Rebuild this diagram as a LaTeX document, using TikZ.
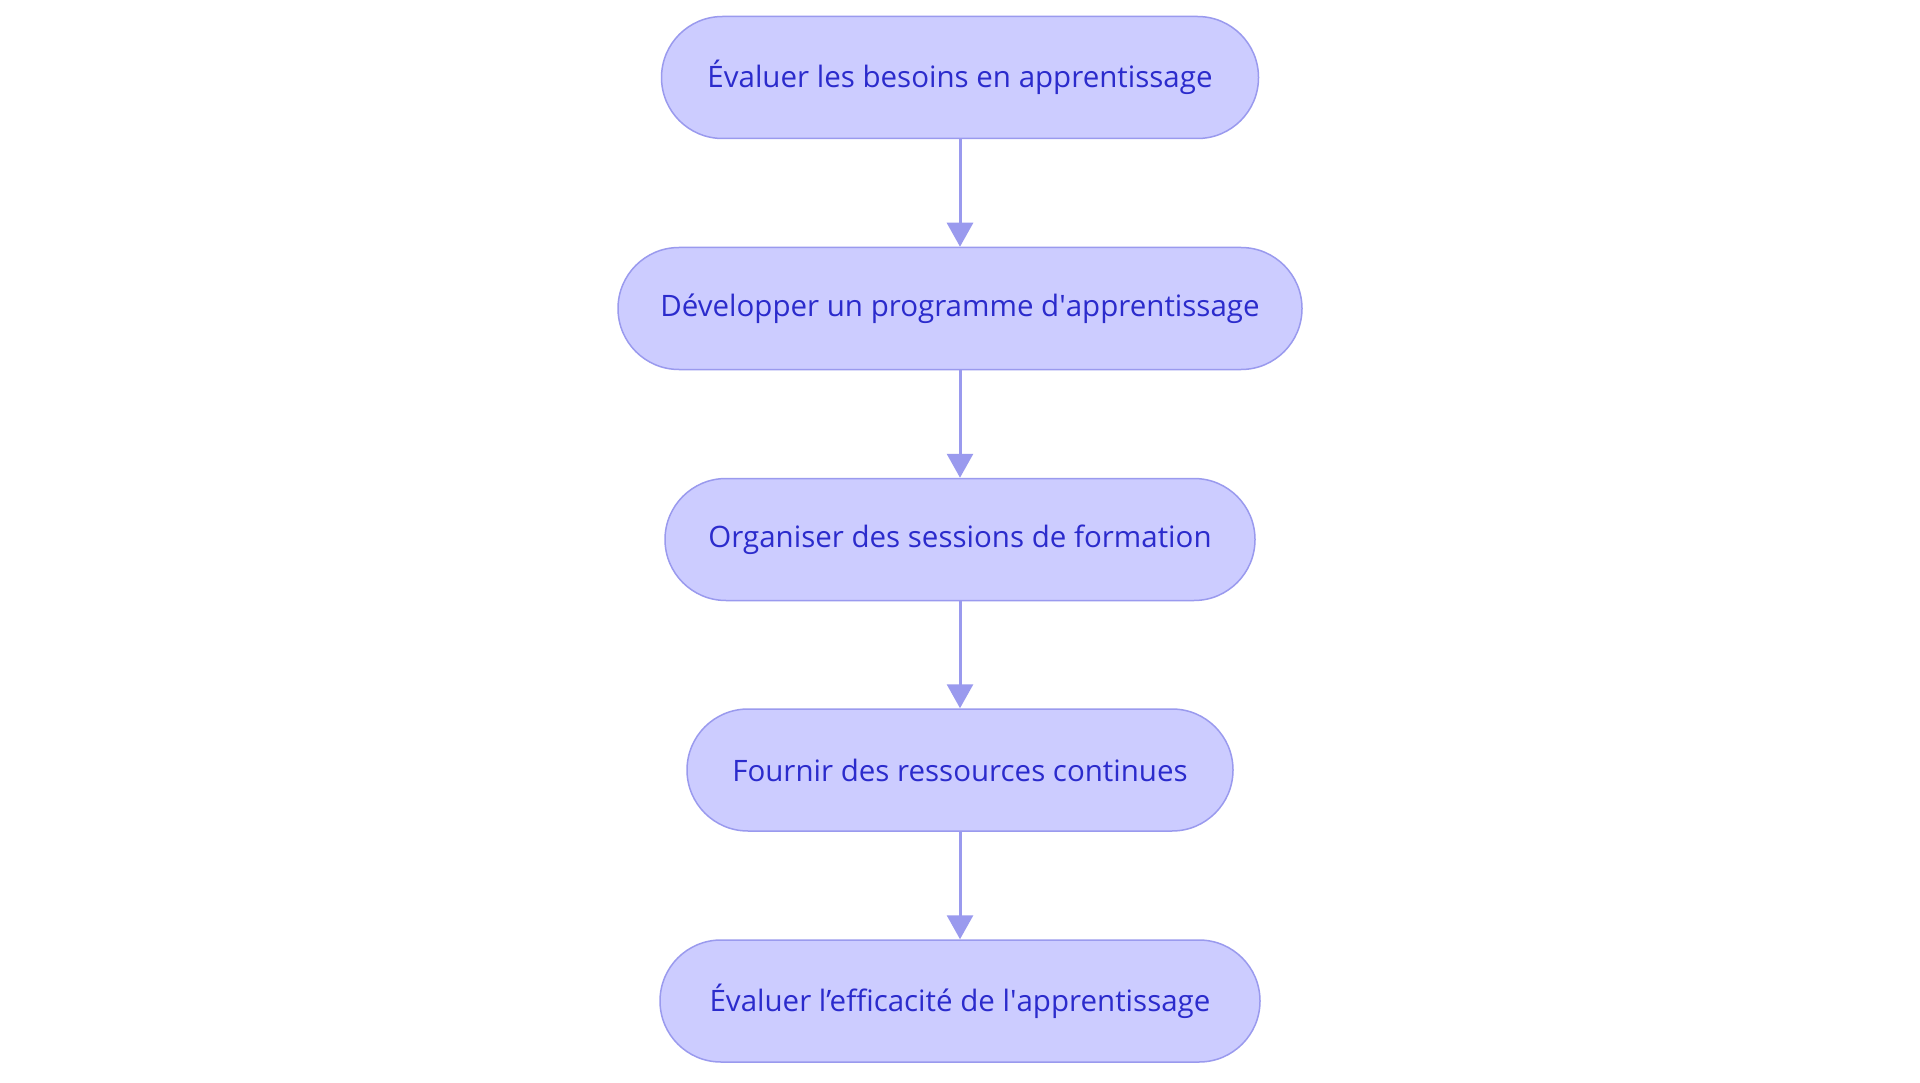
\documentclass[tikz,border=0pt]{standalone}
\usepackage{fontspec}
\setmainfont{Open Sans}
\usetikzlibrary{arrows.meta}
\definecolor{nodefill}{HTML}{CCCCFF}
\definecolor{nodeline}{HTML}{9A9AEE}
\definecolor{nodetext}{HTML}{2B2BCC}
\tikzset{
  x=1pt,y=-1pt,
  stepbox/.style={draw=nodeline,fill=nodefill,line width=1.5pt,rounded corners=61pt,
    minimum height=122pt,inner sep=0pt,text=nodetext,
    font=\fontsize{29.5}{34}\selectfont},
  conn/.style={draw=nodeline,line width=3pt,-{Triangle[length=24pt,width=26pt]}}
}
\begin{document}
\begin{tikzpicture}
\useasboundingbox (0,0) rectangle (1920,1083);
\fill[white] (0,0) rectangle (1920,1083);
\node[stepbox,minimum width=597pt] (n1) at (960,77.5) {Évaluer les besoins en apprentissage};
\node[stepbox,minimum width=684pt] (n2) at (960,308.5) {Développer un programme d\textquotesingle apprentissage};
\node[stepbox,minimum width=590pt] (n3) at (960,539.5) {Organiser des sessions de formation};
\node[stepbox,minimum width=546pt] (n4) at (960,770) {Fournir des ressources continues};
\node[stepbox,minimum width=600pt] (n5) at (960,1001) {Évaluer l’efficacité de l\textquotesingle apprentissage};
\draw[conn] (n1) -- (n2);
\draw[conn] (n2) -- (n3);
\draw[conn] (n3) -- (n4);
\draw[conn] (n4) -- (n5);
\end{tikzpicture}
\end{document}
